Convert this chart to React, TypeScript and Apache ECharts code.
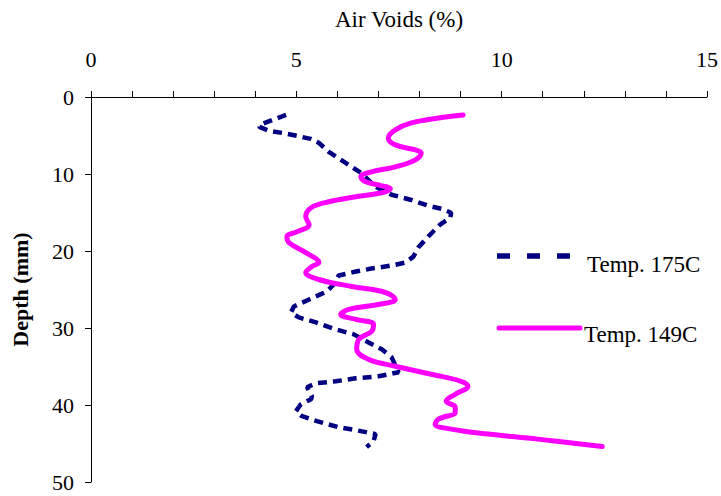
import React, { useEffect, useRef } from "react";
import * as echarts from "echarts";

// Temp. 175C (dashed navy)
const voids175 = [4.75, 4.1, 4.1, 4.34, 4.65, 5.02, 5.35, 5.55, 5.79, 6.2, 6.57, 6.93, 7.32, 7.78, 8.21, 8.53, 8.77, 8.75, 8.5, 8.21, 7.97, 7.85, 7.66, 7.32, 6.83, 6.45, 6.03, 5.91, 5.74, 5.31, 4.94, 4.87, 5.06, 5.48, 5.96, 6.4, 6.76, 7.08, 7.32, 7.49, 7.0, 6.45, 5.96, 5.48, 5.26, 5.38, 5.36, 5.11, 4.99, 5.14, 5.5, 6.03, 6.57, 6.93, 6.88, 6.71];
const depth175 = [2.33, 3.63, 3.89, 4.4, 4.66, 5.05, 5.44, 5.96, 7.12, 8.55, 9.84, 11.66, 12.69, 13.34, 14.12, 14.51, 15.03, 15.67, 16.58, 18.13, 19.56, 20.73, 21.5, 21.89, 22.28, 22.67, 23.19, 24.35, 25.26, 26.3, 27.2, 27.98, 28.63, 29.27, 30.18, 30.83, 31.87, 32.77, 33.81, 35.75, 36.27, 36.53, 36.92, 37.18, 37.69, 38.86, 39.25, 39.9, 40.8, 41.45, 42.1, 42.88, 43.39, 43.78, 44.69, 45.47];

// Temp. 149C (smooth magenta)
const voids149 = [9.06, 8.46, 7.8, 7.41, 7.24, 7.41, 7.9, 8.04, 7.9, 7.41, 6.83, 6.57, 6.69, 7.08, 7.29, 7.08, 6.45, 5.79, 5.36, 5.23, 5.31, 5.02, 4.77, 4.82, 5.23, 5.55, 5.38, 5.23, 5.55, 6.35, 7.17, 7.41, 7.0, 6.28, 6.08, 6.45, 6.88, 6.83, 6.52, 6.47, 6.76, 7.41, 8.29, 9.01, 9.18, 8.87, 8.65, 8.87, 8.87, 8.46, 8.38, 8.77, 9.67, 10.88, 12.45];
const depth149 = [2.33, 2.72, 3.37, 4.27, 5.31, 6.22, 6.87, 7.25, 8.16, 9.07, 9.72, 10.36, 11.01, 11.53, 11.92, 12.44, 12.95, 13.6, 14.38, 15.54, 16.58, 17.49, 18.13, 18.91, 20.21, 21.5, 22.02, 22.8, 23.7, 24.61, 25.39, 26.3, 26.94, 27.59, 28.24, 28.89, 29.53, 30.44, 31.48, 32.77, 34.07, 34.97, 36.01, 36.92, 37.56, 38.6, 39.51, 40.28, 40.93, 41.84, 42.49, 43.13, 43.78, 44.43, 45.4];

const seriesNames = ["Temp. 175C", "Temp. 149C"];
const xTitle = "Air Voids (%)";
const yTitle = "Depth (mm)";

const FONT = "'Liberation Serif', 'Times New Roman', serif";

export default function App() {
  const ref = useRef<HTMLDivElement>(null);
  useEffect(() => {
    if (!ref.current) return;
    const chart = echarts.init(ref.current, null, { renderer: "svg" });
    chart.setOption({
      animation: false,
      backgroundColor: "#ffffff",
      grid: { left: 91, top: 97, right: 14, bottom: 14, containLabel: false, outerBoundsMode: "none" },
      xAxis: {
        type: "value",
        position: "top",
        min: 0,
        max: 15,
        interval: 5,
        name: xTitle,
        nameLocation: "middle",
        nameGap: 66,
        nameTextStyle: { fontFamily: FONT, fontSize: 23, color: "#000" },
        axisLine: { show: true, onZero: false, lineStyle: { color: "#000", width: 1 } },
        axisTick: { show: true, length: 6, lineStyle: { color: "#000" } },
        minorTick: { show: true, splitNumber: 5, length: 6, lineStyle: { color: "#000" } },
        splitLine: { show: false },
        axisLabel: { fontFamily: FONT, fontSize: 22, color: "#000", margin: 27 },
      },
      yAxis: {
        type: "value",
        inverse: true,
        min: 0,
        max: 50,
        interval: 10,
        name: yTitle,
        nameLocation: "middle",
        nameGap: 60,
        nameRotate: 90,
        nameTextStyle: { fontFamily: FONT, fontSize: 22, fontWeight: "bold", color: "#000" },
        axisLine: { show: true, onZero: false, lineStyle: { color: "#000", width: 1 } },
        axisTick: { show: true, length: 6, lineStyle: { color: "#000" } },
        splitLine: { show: false },
        axisLabel: { fontFamily: FONT, fontSize: 22, color: "#000", margin: 17 },
      },
      series: [
        {
          name: seriesNames[0],
          type: "line",
          data: voids175.map((v, i) => [v, depth175[i]]),
          showSymbol: false,
          symbol: "none",
          lineStyle: { color: "#000080", width: 4.5, type: [9, 6] },
          z: 2,
        },
        {
          name: seriesNames[1],
          type: "line",
          data: voids149.map((v, i) => [v, depth149[i]]),
          showSymbol: false,
          symbol: "none",
          smooth: 0.4,
          lineStyle: { color: "#ff00ff", width: 5, cap: "round" },
          z: 3,
        },
      ],
      graphic: [
        {
          type: "line",
          shape: { x1: 497, y1: 256, x2: 570, y2: 256 },
          style: { stroke: "#000080", lineWidth: 5.5, lineDash: [13, 17] },
        },
        {
          type: "text",
          x: 587,
          y: 264,
          style: { text: seriesNames[0], font: `23px ${FONT}`, fill: "#000", verticalAlign: "middle", align: "left" },
        },
        {
          type: "line",
          shape: { x1: 499, y1: 328, x2: 580, y2: 328 },
          style: { stroke: "#ff00ff", lineWidth: 5, lineCap: "round" },
        },
        {
          type: "text",
          x: 584,
          y: 334,
          style: { text: seriesNames[1], font: `23px ${FONT}`, fill: "#000", verticalAlign: "middle", align: "left" },
        },
      ],
    });
    return () => chart.dispose();
  }, []);
  return <div ref={ref} style={{ width: 721, height: 496, position: "absolute", left: 0, top: 0 }} />;
}
